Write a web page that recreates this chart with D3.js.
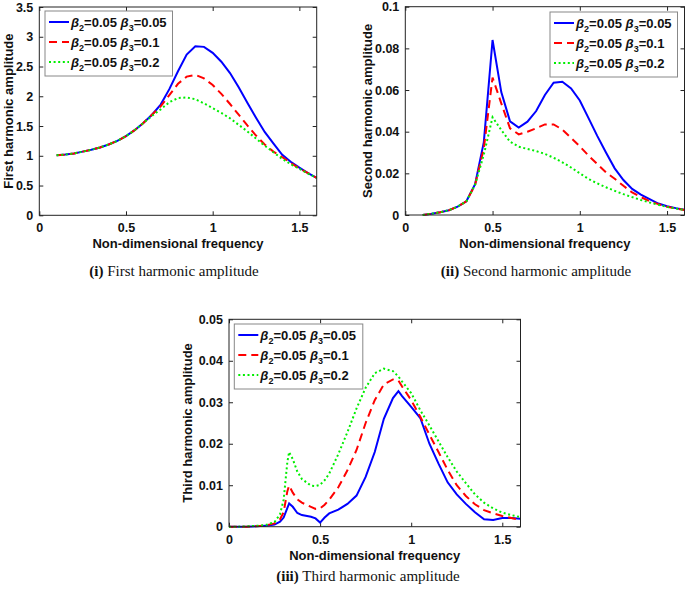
<!DOCTYPE html>
<html>
<head>
<meta charset="utf-8">
<script src="https://cdn.jsdelivr.net/npm/d3@7"></script>
<style>
  body { margin: 0; background: #fff; }
  svg { display: block; font-family: 'Liberation Sans', Arial, sans-serif; }
</style>
</head>
<body>
<svg id="svg1" width="685" height="589"></svg>
<script>
// frequencies for panels (i) and (ii)
freq12 = [0.1,0.15,0.2,0.25,0.3,0.35,0.4,0.45,0.5,0.55,0.6,0.65,0.7,0.75,0.8,0.85,0.9,0.95,1.0,1.05,1.1,1.15,1.2,1.25,1.3,1.35,1.4,1.45,1.5,1.55,1.6];

// (i) first harmonic amplitude
first_b05 = [1.01,1.02,1.04,1.07,1.10,1.14,1.19,1.25,1.33,1.43,1.55,1.69,1.86,2.12,2.42,2.70,2.84,2.83,2.73,2.58,2.39,2.15,1.89,1.64,1.40,1.21,1.02,0.90,0.80,0.71,0.63];
first_b1  = [1.01,1.02,1.04,1.07,1.10,1.14,1.19,1.25,1.33,1.43,1.55,1.69,1.83,2.02,2.21,2.33,2.36,2.30,2.19,2.04,1.87,1.69,1.51,1.34,1.19,1.07,0.98,0.88,0.79,0.71,0.63];
first_b2  = [1.01,1.02,1.04,1.07,1.10,1.14,1.19,1.25,1.33,1.43,1.55,1.67,1.78,1.90,1.97,1.98,1.95,1.88,1.80,1.72,1.63,1.52,1.41,1.29,1.17,1.06,0.95,0.86,0.78,0.70,0.63];

// (ii) second harmonic amplitude
second_b05 = [0,0.0006,0.0013,0.0023,0.004,0.0066,0.0148,0.035,0.084,0.059,0.045,0.042,0.0448,0.0499,0.0576,0.0635,0.064,0.0608,0.055,0.0465,0.038,0.030,0.0224,0.0168,0.0125,0.0098,0.0076,0.0055,0.0042,0.0033,0.0025];
second_b1  = [0,0.0006,0.0013,0.0023,0.004,0.0066,0.0145,0.032,0.066,0.0536,0.0416,0.0387,0.040,0.0416,0.0435,0.0435,0.041,0.037,0.033,0.0285,0.0245,0.0205,0.0174,0.0140,0.0108,0.0086,0.0066,0.0052,0.0040,0.0031,0.0024];
second_b2  = [0,0.0006,0.0013,0.0023,0.004,0.0066,0.0145,0.029,0.0469,0.0408,0.0352,0.0328,0.0317,0.0307,0.0293,0.0275,0.0253,0.0228,0.020,0.0173,0.0152,0.0133,0.0116,0.0100,0.0086,0.0072,0.006,0.0049,0.0039,0.0031,0.0024];

// (iii) third harmonic amplitude
freq3 = [0,0.05,0.1,0.15,0.2,0.25,0.28,0.3,0.32,0.33,0.35,0.375,0.4,0.45,0.475,0.5,0.525,0.55,0.6,0.65,0.7,0.75,0.8,0.85,0.9,0.93,0.95,1.0,1.05,1.1,1.15,1.2,1.25,1.3,1.35,1.4,1.45,1.5,1.55,1.6];
third_b05 = [0,0,0,0.0001,0.0002,0.0005,0.0012,0.0022,0.0045,0.0056,0.0048,0.0033,0.0028,0.0024,0.002,0.001,0.0022,0.0032,0.0041,0.0055,0.0075,0.012,0.018,0.026,0.031,0.0327,0.0315,0.0289,0.0262,0.020,0.0152,0.0107,0.0078,0.0055,0.0035,0.0018,0.0016,0.0021,0.0021,0.0019];
third_b1  = [0,0,0,0.0001,0.0003,0.0008,0.0018,0.0035,0.0085,0.0099,0.0082,0.0066,0.0058,0.0048,0.0043,0.0044,0.0053,0.0065,0.0095,0.0136,0.0185,0.025,0.0305,0.0343,0.0355,0.0352,0.0338,0.0305,0.0265,0.0222,0.018,0.0137,0.01,0.0074,0.0054,0.004,0.0032,0.0026,0.0021,0.0016];
third_b2  = [0,0,0.0001,0.0002,0.0004,0.0011,0.003,0.0065,0.0155,0.018,0.0163,0.0133,0.0115,0.0099,0.0098,0.0101,0.0112,0.0128,0.0175,0.0228,0.0285,0.0335,0.037,0.0381,0.0375,0.0362,0.035,0.0322,0.0281,0.0244,0.0206,0.0168,0.0133,0.0105,0.0078,0.0058,0.0044,0.0034,0.0028,0.0023];

// ticks and labels
xTicks = [0,0.5,1,1.5];
yTicks1 = [0,0.5,1,1.5,2,2.5,3,3.5];
yTicks2 = [0,0.02,0.04,0.06,0.08,0.1];
yTicks3 = [0,0.01,0.02,0.03,0.04,0.05];
beta2 = '0.05';
beta3 = ['0.05','0.1','0.2'];
seriesColors = ['#0000ff','#ff0000','#00ee00'];
seriesDash = [null,'8,5','2,2.6'];

svg = d3.select('#svg1');

function drawPanel(p) {
  var xScale = d3.scaleLinear().domain([0,1.6]).range([p.left,p.right]);
  var yScale = d3.scaleLinear().domain(p.yDomain).range([p.bottom,p.top]);
  var g = svg.append('g');

  // ticks, inside on all four sides
  g.append('g')
        .attr('transform',`translate(0,${p.bottom})`)
        .call(d3.axisBottom(xScale).tickValues(xTicks).tickFormat(d => d)
              .tickSizeInner(-4).tickSizeOuter(0).tickPadding(8));
  g.append('g')
        .attr('transform',`translate(${p.left},0)`)
        .call(d3.axisLeft(yScale).tickValues(p.yTicks).tickFormat(d => d)
              .tickSizeInner(-4).tickSizeOuter(0).tickPadding(6));
  g.append('g')
        .attr('transform',`translate(0,${p.top})`)
        .call(d3.axisTop(xScale).tickValues(xTicks).tickFormat('').tickSizeInner(-4).tickSizeOuter(0));
  g.append('g')
        .attr('transform',`translate(${p.right},0)`)
        .call(d3.axisRight(yScale).tickValues(p.yTicks).tickFormat('').tickSizeInner(-4).tickSizeOuter(0));
  g.selectAll('.domain').remove();
  g.selectAll('.tick line').style('stroke','#222');
  g.selectAll('.tick text')
        .style('font-family',"'Liberation Sans', Arial, sans-serif")
        .style('font-size','12.5px')
        .style('font-weight','bold')
        .style('fill','#111');

  // lines
  p.series.forEach(function(s, i) {
    var pts = p.freq.map((f, j) => [f, s[j]]);
    g.append('path')
        .datum(pts)
        .style('fill','none')
        .style('stroke',seriesColors[i])
        .style('stroke-width','2')
        .style('stroke-dasharray',seriesDash[i])
        .attr('d', d3.line().x(d => xScale(d[0])).y(d => yScale(d[1])));
  });

  // box
  g.append('rect')
        .attr('x',p.left).attr('y',p.top)
        .attr('width',p.right-p.left).attr('height',p.bottom-p.top)
        .style('fill','none').style('stroke','#222').style('stroke-width','1');

  // axis labels
  g.append('text')
        .attr('x',(p.left+p.right)/2).attr('y',p.bottom+33)
        .attr('text-anchor','middle')
        .style('font-size','13px').style('font-weight','bold').style('fill','#111')
        .text('Non-dimensional frequency');
  g.append('text')
        .attr('transform',`translate(${p.yLabelX},${(p.top+p.bottom)/2}) rotate(-90)`)
        .attr('text-anchor','middle')
        .style('font-size','13px').style('font-weight','bold').style('fill','#111')
        .text(p.yLabel);

  // legend
  var lg = g.append('g').attr('transform',`translate(${p.legX},${p.legY})`);
  lg.append('rect')
        .attr('width',p.legW).attr('height',65)
        .style('fill','#fff').style('stroke','#888').style('stroke-width','1');
  beta3.forEach(function(b, i) {
    var yy = 11 + i*20;
    lg.append('line')
        .attr('x1',4).attr('x2',24).attr('y1',yy).attr('y2',yy)
        .style('stroke',seriesColors[i]).style('stroke-width','2')
        .style('stroke-dasharray',seriesDash[i]);
    var t = lg.append('text')
        .attr('x',26).attr('y',yy+4.5)
        .style('font-size','13px').style('font-weight','bold').style('fill','#111');
    t.append('tspan').style('font-style','italic').text('β');
    t.append('tspan').attr('dy',4).style('font-size','9px').text('2');
    t.append('tspan').attr('dy',-4).text('=' + beta2 + ' ');
    t.append('tspan').style('font-style','italic').text('β');
    t.append('tspan').attr('dy',4).style('font-size','9px').text('3');
    t.append('tspan').attr('dy',-4).text('=' + b);
  });

  // caption
  var c = svg.append('text')
        .attr('x',p.capX).attr('y',p.capY)
        .attr('text-anchor','middle')
        .style('font-family',"'Liberation Serif', 'Times New Roman', serif")
        .style('font-size','15px').style('fill','#111');
  c.append('tspan').style('font-weight','bold').text(p.capNum);
  c.append('tspan').text(' ' + p.capText);
}

drawPanel({left:39.3, right:316.7, top:7, bottom:215.3, yDomain:[0,3.5], yTicks:yTicks1,
  freq:freq12, series:[first_b05,first_b1,first_b2], yLabel:'First harmonic amplitude', yLabelX:12.5,
  legX:45, legY:11, legW:127.5, capX:174, capY:276, capNum:'(i)', capText:'First harmonic amplitude'});

drawPanel({left:405.3, right:684.5, top:6.7, bottom:215, yDomain:[0,0.1], yTicks:yTicks2,
  freq:freq12, series:[second_b05,second_b1,second_b2], yLabel:'Second harmonic amplitude', yLabelX:372,
  legX:550, legY:12, legW:127.5, capX:536, capY:276, capNum:'(ii)', capText:'Second harmonic amplitude'});

drawPanel({left:229, right:520.5, top:319.3, bottom:526.7, yDomain:[0,0.05], yTicks:yTicks3,
  freq:freq3, series:[third_b05,third_b1,third_b2], yLabel:'Third harmonic amplitude', yLabelX:192,
  legX:234.3, legY:324, legW:128.5, capX:368, capY:581, capNum:'(iii)', capText:'Third harmonic amplitude'});
</script>
</body>
</html>
